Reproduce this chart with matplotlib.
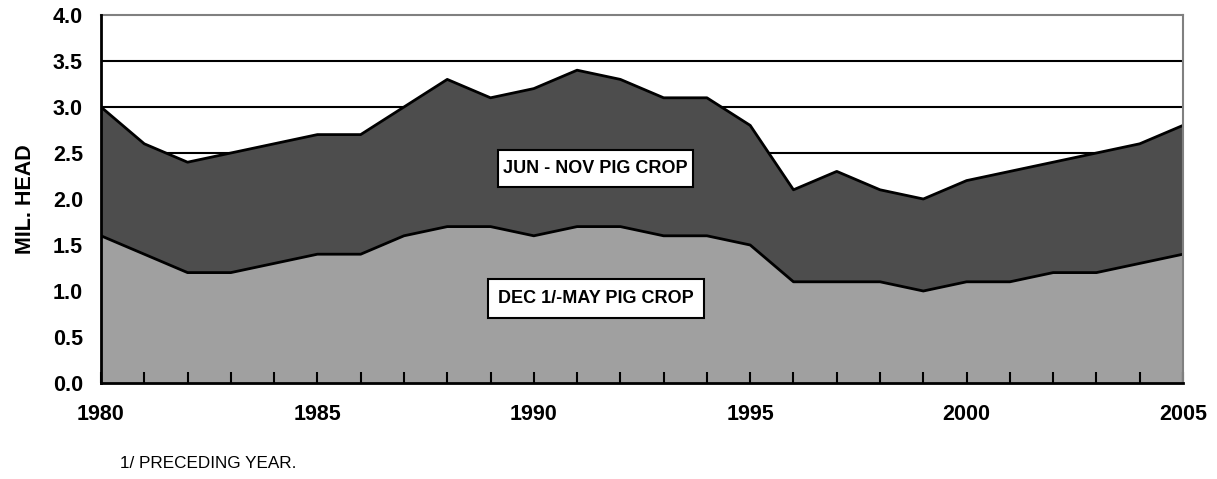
import numpy as np
import matplotlib.pyplot as plt
from matplotlib.patches import Rectangle

plt.rcParams["font.family"] = ["Liberation Sans", "DejaVu Sans"]

# ── datos ─────────────────────────────────────────────
years = list(range(1980, 2006))
dec_may = [1.6, 1.4, 1.2, 1.2, 1.3, 1.4, 1.4, 1.6, 1.7, 1.7, 1.6, 1.7, 1.7,
           1.6, 1.6, 1.5, 1.1, 1.1, 1.1, 1.0, 1.1, 1.1, 1.2, 1.2, 1.3, 1.4]
total = [3.0, 2.6, 2.4, 2.5, 2.6, 2.7, 2.7, 3.0, 3.3, 3.1, 3.2, 3.4, 3.3,
         3.1, 3.1, 2.8, 2.1, 2.3, 2.1, 2.0, 2.2, 2.3, 2.4, 2.5, 2.6, 2.8]
xtick_years = [1980, 1985, 1990, 1995, 2000, 2005]
yticks = [0.0, 0.5, 1.0, 1.5, 2.0, 2.5, 3.0, 3.5, 4.0]

fig = plt.figure(figsize=(12.17, 4.79), dpi=100)
ax = fig.add_axes([101 / 1217, 1 - 383 / 479, (1183 - 101) / 1217, (383 - 15) / 479])

# gridlines behind the areas
for y in yticks[1:-1]:
    ax.axhline(y, color="black", lw=1.5, zorder=0)

ax.fill_between(years, 0, dec_may, color="#a0a0a0", lw=0, zorder=1)
ax.fill_between(years, dec_may, total, color="#4d4d4d", lw=0, zorder=1)
ax.plot(years, dec_may, color="black", lw=2, zorder=2)
ax.plot(years, total, color="black", lw=2, zorder=2)

ax.set_xlim(1980, 2005)
ax.set_ylim(0, 4.0)
ax.set_yticks(yticks)
ax.set_yticklabels([f"{v:.1f}" for v in yticks], fontweight="bold", fontsize=15.5)
ax.set_xticks(years)
ax.set_xticklabels([str(y) if y in xtick_years else "" for y in years],
                   fontweight="bold", fontsize=15.5)
ax.tick_params(axis="x", direction="in", length=8, width=1.5, pad=15, color="black")
ax.tick_params(axis="y", length=0, pad=13)

for s in ["left", "bottom"]:
    ax.spines[s].set_color("black")
    ax.spines[s].set_linewidth(2)
    ax.spines[s].set_zorder(3)
for s in ["top", "right"]:
    ax.spines[s].set_color("#808080")
    ax.spines[s].set_linewidth(1.5)

ax.set_ylabel("MIL. HEAD", fontweight="bold", fontsize=15.5, labelpad=12)

# etiquetas en cajas
ax.add_patch(Rectangle((1989.17, 2.13), 4.51, 0.40, facecolor="white",
                       edgecolor="black", lw=1.5, zorder=4))
ax.add_patch(Rectangle((1988.94, 0.71), 4.99, 0.42, facecolor="white",
                       edgecolor="black", lw=1.5, zorder=4))
ax.text(1991.43, 2.33, "JUN - NOV PIG CROP", ha="center", va="center",
        fontweight="bold", fontsize=13, zorder=5)
ax.text(1991.43, 0.92, "DEC 1/-MAY PIG CROP", ha="center", va="center",
        fontweight="bold", fontsize=13, zorder=5)

fig.text(120 / 1217, 1 - 463 / 479, "1/ PRECEDING YEAR.", ha="left", va="center",
         fontsize=12.3)

fig.savefig("out.png", dpi=100)
